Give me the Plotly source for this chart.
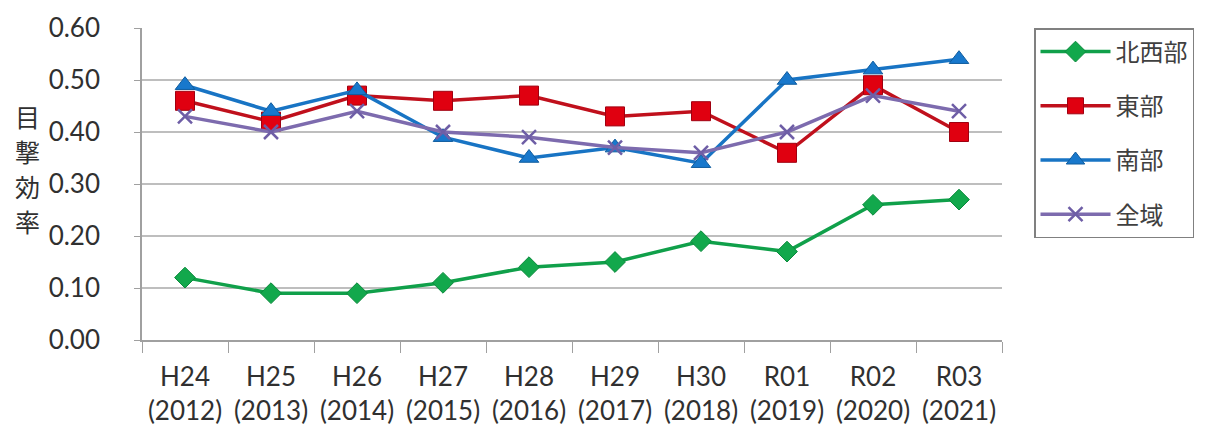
import plotly.graph_objects as go

# Fiscal years (Japanese era + western year)
years = ["H24<br>(2012)", "H25<br>(2013)", "H26<br>(2014)", "H27<br>(2015)", "H28<br>(2016)",
         "H29<br>(2017)", "H30<br>(2018)", "R01<br>(2019)", "R02<br>(2020)", "R03<br>(2021)"]

# Sighting efficiency by area
northwest = [0.12, 0.09, 0.09, 0.11, 0.14, 0.15, 0.19, 0.17, 0.26, 0.27]
east      = [0.46, 0.42, 0.47, 0.46, 0.47, 0.43, 0.44, 0.36, 0.49, 0.40]
south     = [0.49, 0.44, 0.48, 0.39, 0.35, 0.37, 0.34, 0.50, 0.52, 0.54]
overall   = [0.43, 0.40, 0.44, 0.40, 0.39, 0.37, 0.36, 0.40, 0.47, 0.44]

series_names = ["北西部", "東部", "南部", "全域"]
y_ticks = [0.0, 0.1, 0.2, 0.3, 0.4, 0.5, 0.6]
y_title_chars = ["目", "撃", "効", "率"]

JP = "Noto Sans CJK JP"
LAT = "Lato, 'Noto Sans CJK JP'"

# plot-area geometry in pixels
W, H = 1205, 433
L, R, T, B = 142, 202, 28, 93
PW, PH = W - L - R, H - T - B

fig = go.Figure()

styles = [
    (northwest, "#10A04A", dict(symbol="diamond", size=16, color="#12A84C", line=dict(color="#0B8A3C", width=1))),
    (east, "#C0101C", dict(symbol="square", size=19, color="#E00010", line=dict(color="#A00010", width=1))),
    (south, "#1874C4", dict(symbol="triangle-up", size=17, color="#1878CC", line=dict(color="#0F5C9E", width=1))),
    (overall, "#7D6BAE", dict(symbol="x-thin", size=14, color="#6E5EA6", line=dict(color="#6E5EA6", width=2.5))),
]

for i, (vals, lc, mk) in enumerate(styles):
    fig.add_trace(go.Scatter(
        x=years, y=vals, name=series_names[i], mode="lines+markers",
        line=dict(color=lc, width=3.5), marker=mk, legendgroup=f"g{i}",
    ))

fig.update_layout(
    width=W, height=H,
    margin=dict(l=L, r=R, t=T, b=B),
    paper_bgcolor="white", plot_bgcolor="white",
    font=dict(family=LAT, size=24, color="#303030"),
    showlegend=True,
    legend=dict(
        x=(1034 - L) / PW, y=1.0, xanchor="left", yanchor="top",
        bordercolor="#808080", borderwidth=1.5, bgcolor="white",
        font=dict(family=JP, size=24, color="#404040"),
        tracegroupgap=20, itemwidth=70,
    ),
    xaxis=dict(
        type="category", range=[-0.5, 9.5], automargin=False,
        showgrid=False, tickson="boundaries", ticks="outside", ticklen=11,
        tickcolor="#A0A0A0", showline=True, linecolor="#A0A0A0", linewidth=1.5,
        ticklabelstandoff=13,
        tickfont=dict(family=LAT, size=26, color="#303030"),
    ),
    yaxis=dict(
        range=[0, 0.6], tickvals=y_ticks, tickformat=".2f", automargin=False,
        showgrid=True, gridcolor="#BEBEBE", gridwidth=1.5,
        showline=True, linecolor="#A0A0A0", linewidth=1.5,
        ticks="outside", ticklen=6, tickcolor="#A0A0A0",
        ticklabelstandoff=29,
        zeroline=True, zerolinecolor="#A0A0A0", zerolinewidth=1.5,
        tickfont=dict(family=LAT, size=26, color="#303030"),
    ),
)

# vertical axis title, one character per line
for k, ch in enumerate(y_title_chars):
    py = 116 + 35 * k
    fig.add_annotation(
        text=ch, xref="paper", yref="paper",
        x=(27 - L) / PW, y=(H - B - py) / PH,
        xanchor="center", yanchor="middle", showarrow=False,
        font=dict(family=JP, size=25, color="#303030"),
    )

fig.write_html("out.html")
